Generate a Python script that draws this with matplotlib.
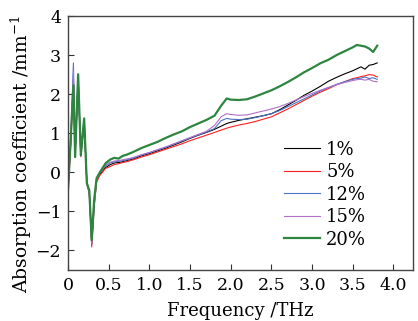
import matplotlib
matplotlib.use("Agg")
import matplotlib.pyplot as plt

freq = [0.0, 0.03, 0.065, 0.086, 0.123, 0.156, 0.197, 0.23, 0.26, 0.29, 0.32, 0.35,
        0.39, 0.46, 0.52, 0.57, 0.62, 0.67, 0.72, 0.8, 0.9, 1.0, 1.1, 1.2, 1.3, 1.4,
        1.5, 1.6, 1.7, 1.8, 1.88, 1.95, 2.0, 2.1, 2.2, 2.3, 2.4, 2.5, 2.6, 2.7, 2.8,
        2.9, 3.0, 3.1, 3.2, 3.3, 3.4, 3.5, 3.55, 3.6, 3.65, 3.7, 3.75, 3.8]

s1 = [-0.35, 0.7, 2.4, 0.45, 2.45, 0.44, 1.35, -0.25, -0.5, -1.8, -0.8, -0.2,
      -0.05, 0.12, 0.2, 0.24, 0.25, 0.27, 0.3, 0.34, 0.42, 0.48, 0.55, 0.62, 0.7, 0.78,
      0.87, 0.95, 1.02, 1.1, 1.18, 1.25, 1.28, 1.33, 1.37, 1.41, 1.45, 1.5, 1.6, 1.72, 1.84,
      1.97, 2.08, 2.2, 2.33, 2.43, 2.52, 2.6, 2.65, 2.7, 2.64, 2.74, 2.76, 2.8]
s5 = [-0.45, 0.6, 2.3, 0.4, 2.4, 0.4, 1.3, -0.3, -0.55, -1.91, -0.9, -0.25,
      -0.08, 0.1, 0.15, 0.2, 0.22, 0.25, 0.27, 0.32, 0.39, 0.45, 0.52, 0.59, 0.66, 0.73,
      0.81, 0.88, 0.95, 1.02, 1.08, 1.13, 1.16, 1.21, 1.25, 1.3, 1.36, 1.42, 1.52, 1.62, 1.73,
      1.84, 1.95, 2.05, 2.14, 2.24, 2.32, 2.4, 2.42, 2.45, 2.47, 2.5, 2.49, 2.44]
s12 = [-0.4, 0.7, 2.8, 0.42, 2.45, 0.42, 1.33, -0.27, -0.5, -1.85, -0.85, -0.2,
       0.0, 0.16, 0.24, 0.27, 0.28, 0.3, 0.32, 0.36, 0.44, 0.5, 0.57, 0.64, 0.72, 0.8,
       0.88, 0.96, 1.03, 1.12, 1.32, 1.38, 1.36, 1.35, 1.36, 1.4, 1.45, 1.5, 1.58, 1.68, 1.78,
       1.88, 1.98, 2.08, 2.17, 2.25, 2.32, 2.38, 2.4, 2.41, 2.44, 2.4, 2.42, 2.38]
s15 = [-0.4, 0.7, 2.6, 0.42, 2.45, 0.42, 1.33, -0.27, -0.5, -1.8, -0.85, -0.2,
       0.0, 0.18, 0.26, 0.29, 0.3, 0.32, 0.34, 0.38, 0.45, 0.51, 0.58, 0.65, 0.73, 0.81,
       0.89, 0.97, 1.05, 1.2, 1.42, 1.5, 1.48, 1.46, 1.47, 1.52, 1.57, 1.62, 1.68, 1.76, 1.85,
       1.94, 2.02, 2.1, 2.17, 2.24, 2.3, 2.35, 2.37, 2.38, 2.36, 2.38, 2.33, 2.32]
s20 = [-0.41, 0.8, 2.23, 0.39, 2.51, 0.44, 1.38, -0.28, -0.46, -1.74, -0.7, -0.15,
       0.0, 0.23, 0.33, 0.37, 0.35, 0.42, 0.45, 0.52, 0.62, 0.7, 0.78, 0.88, 0.97, 1.05,
       1.16, 1.25, 1.34, 1.45, 1.7, 1.89, 1.86, 1.85, 1.87, 1.94, 2.02, 2.1, 2.2, 2.31, 2.43,
       2.56, 2.67, 2.79, 2.88, 3.0, 3.1, 3.2, 3.26, 3.24, 3.22, 3.17, 3.08, 3.24]

labels = ["1%", "5%", "12%", "15%", "20%"]
series = [s1, s5, s12, s15, s20]
colors = ["#000000", "#ff1f1f", "#4a74c4", "#b070c8", "#2e8540"]
widths = [0.8, 0.8, 0.8, 0.8, 1.6]

plt.rcParams["font.family"] = "DejaVu Serif"
plt.rcParams["mathtext.fontset"] = "dejavuserif"

fig = plt.figure(figsize=(4.18, 3.21), dpi=100)
ax = fig.add_axes([0.163, 0.159, 0.825, 0.791])
for y, lab, c, w in zip(series, labels, colors, widths):
    ax.plot(freq, y, color=c, lw=w, label=lab)

ax.set_xlim(0, 4.24)
ax.set_ylim(-2.5, 4)
ax.set_xticks([0, 0.5, 1.0, 1.5, 2.0, 2.5, 3.0, 3.5, 4.0])
ax.set_xticklabels(["0", "0.5", "1.0", "1.5", "2.0", "2.5", "3.0", "3.5", "4.0"])
ax.set_yticks([-2, -1, 0, 1, 2, 3, 4])
ax.tick_params(direction="in", labelsize=12.5, length=4, width=0.8, colors="#333333",
               labelcolor="black", pad=5)
for sp in ax.spines.values():
    sp.set_color("#444444")
    sp.set_linewidth(1.0)
ax.set_xlabel("Frequency /THz", fontsize=13, labelpad=6)
ax.set_ylabel("Absorption coefficient /mm$^{-1}$", fontsize=13.5, labelpad=1)
ax.yaxis.label.set_y(0.455)
ax.legend(loc="lower right", frameon=False, fontsize=13, handlelength=2.0,
          handletextpad=0.35, labelspacing=0.25, borderaxespad=0,
          bbox_to_anchor=(0.885, 0.055))

fig.savefig("out.png", dpi=100)
